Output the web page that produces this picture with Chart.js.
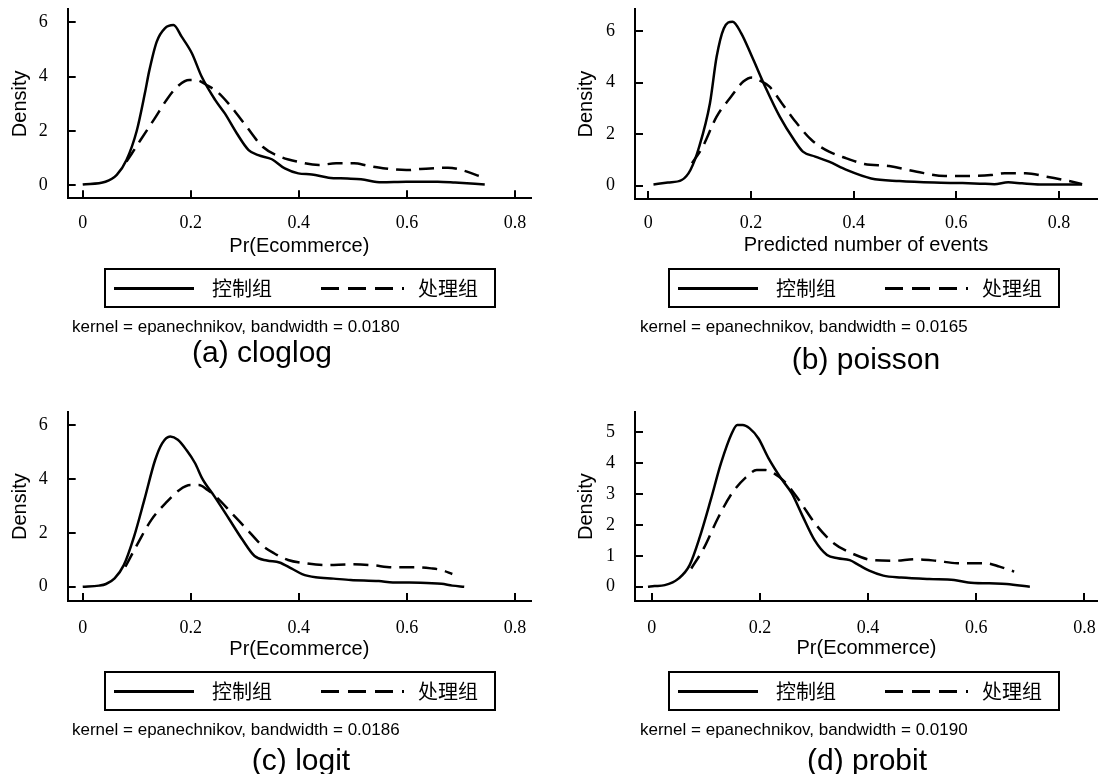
<!DOCTYPE html>
<html>
<head>
<meta charset="utf-8">
<script src="https://cdn.jsdelivr.net/npm/chart.js@4/dist/chart.umd.min.js"></script>
<style>
  html, body { margin:0; padding:0; background:#fff; }
  #wrap { position:relative; width:1098px; height:774px; overflow:hidden; background:#fff; }
  .panel { position:absolute; width:549px; height:387px; }
  .legend { position:absolute; box-sizing:border-box; border:2px solid #000; height:40px; width:392px; background:#fff; }
  .legend .sample { position:absolute; top:17px; height:2.5px; }
  .legend .solid { background:#000; }
  .legend .dash { background:repeating-linear-gradient(to right,#000 0,#000 18px,transparent 18px,transparent 27px); }
  .legend .lab { position:absolute; top:5px; font-family:"Noto Sans CJK SC", sans-serif; font-size:20px; line-height:26px; color:#000; }
  .note { position:absolute; font-family:"Liberation Sans", Arial, sans-serif; font-size:17px; line-height:20px; color:#000; white-space:nowrap; }
  .caption { position:absolute; font-family:"Liberation Sans", Arial, sans-serif; font-size:30px; line-height:34px; color:#000; white-space:nowrap; transform:translateX(-50%); }
</style>
</head>
<body>
<div id="wrap"></div>
<script>
// ---------------- data ----------------
const seriesLabels = ['控制组', '处理组'];

// (a) cloglog
const cloglogCtrlX  = [0, 0.042, 0.063, 0.081, 0.10, 0.115, 0.123, 0.137, 0.152, 0.168, 0.183, 0.202, 0.22, 0.245, 0.263, 0.285, 0.307, 0.325, 0.35, 0.374, 0.399, 0.424, 0.455, 0.49, 0.515, 0.553, 0.599, 0.657, 0.689, 0.744];
const cloglogCtrlY  = [0.02, 0.12, 0.37, 0.92, 2.0, 3.38, 4.2, 5.29, 5.78, 5.9, 5.47, 4.86, 4.0, 3.14, 2.64, 1.91, 1.29, 1.1, 0.95, 0.61, 0.43, 0.39, 0.27, 0.24, 0.21, 0.10, 0.12, 0.12, 0.09, 0.02];
const cloglogTreatX = [0.081, 0.107, 0.133, 0.159, 0.178, 0.197, 0.21, 0.23, 0.249, 0.275, 0.301, 0.333, 0.366, 0.398, 0.437, 0.469, 0.502, 0.528, 0.56, 0.599, 0.625, 0.676, 0.702, 0.744];
const cloglogTreatY = [0.86, 1.66, 2.45, 3.25, 3.68, 3.87, 3.87, 3.68, 3.44, 2.88, 2.21, 1.41, 1.04, 0.86, 0.74, 0.80, 0.80, 0.71, 0.61, 0.55, 0.59, 0.64, 0.55, 0.25];

// (b) poisson
const poissonCtrlX  = [0.010, 0.038, 0.065, 0.082, 0.099, 0.12, 0.133, 0.147, 0.164, 0.181, 0.202, 0.229, 0.256, 0.284, 0.301, 0.325, 0.352, 0.386, 0.434, 0.489, 0.557, 0.612, 0.646, 0.674, 0.701, 0.728, 0.763, 0.845];
const poissonCtrlY  = [0.05, 0.12, 0.22, 0.61, 1.51, 3.2, 5.0, 6.1, 6.36, 5.91, 5.0, 3.78, 2.68, 1.77, 1.32, 1.13, 0.93, 0.61, 0.28, 0.18, 0.12, 0.10, 0.08, 0.06, 0.13, 0.09, 0.05, 0.05];
const poissonTreatX = [0.085, 0.106, 0.133, 0.161, 0.185, 0.202, 0.215, 0.236, 0.26, 0.284, 0.318, 0.352, 0.386, 0.421, 0.469, 0.523, 0.578, 0.626, 0.667, 0.694, 0.735, 0.776, 0.824, 0.845];
const poissonTreatY = [0.87, 1.51, 2.68, 3.45, 4.04, 4.2, 4.1, 3.84, 3.2, 2.55, 1.77, 1.32, 1.06, 0.84, 0.76, 0.54, 0.38, 0.38, 0.41, 0.48, 0.48, 0.35, 0.16, 0.06];

// (c) logit
const logitCtrlX  = [0, 0.03, 0.043, 0.059, 0.076, 0.095, 0.114, 0.134, 0.147, 0.162, 0.176, 0.192, 0.208, 0.221, 0.244, 0.27, 0.296, 0.318, 0.341, 0.364, 0.386, 0.406, 0.431, 0.464, 0.496, 0.548, 0.574, 0.625, 0.664, 0.684, 0.706];
const logitCtrlY  = [0, 0.04, 0.1, 0.31, 0.8, 1.86, 3.22, 4.7, 5.32, 5.57, 5.45, 5.07, 4.58, 4.02, 3.34, 2.54, 1.73, 1.14, 0.97, 0.9, 0.68, 0.47, 0.35, 0.3, 0.25, 0.21, 0.16, 0.15, 0.11, 0.04, 0.0];
const logitTreatX = [0.079, 0.102, 0.127, 0.153, 0.179, 0.199, 0.215, 0.231, 0.25, 0.276, 0.302, 0.331, 0.354, 0.38, 0.412, 0.451, 0.496, 0.535, 0.574, 0.619, 0.645, 0.664, 0.684];
const logitTreatY = [0.74, 1.61, 2.48, 3.09, 3.59, 3.77, 3.77, 3.59, 3.28, 2.72, 2.17, 1.55, 1.24, 0.99, 0.87, 0.80, 0.83, 0.80, 0.72, 0.72, 0.68, 0.62, 0.47];

// (d) probit
const probitCtrlX  = [-0.007, 0.005, 0.024, 0.05, 0.07, 0.089, 0.109, 0.128, 0.148, 0.158, 0.168, 0.181, 0.197, 0.216, 0.239, 0.259, 0.278, 0.301, 0.324, 0.344, 0.366, 0.383, 0.402, 0.428, 0.461, 0.513, 0.559, 0.585, 0.624, 0.656, 0.699];
const probitCtrlY  = [0, 0.02, 0.05, 0.27, 0.70, 1.62, 2.81, 4.0, 4.97, 5.24, 5.24, 5.13, 4.81, 4.16, 3.51, 3.02, 2.32, 1.51, 1.03, 0.92, 0.86, 0.70, 0.52, 0.36, 0.30, 0.25, 0.22, 0.14, 0.11, 0.09, 0.0];
const probitTreatX = [0.073, 0.096, 0.122, 0.148, 0.174, 0.194, 0.21, 0.226, 0.246, 0.272, 0.304, 0.337, 0.37, 0.409, 0.448, 0.487, 0.526, 0.565, 0.617, 0.643, 0.67];
const probitTreatY = [0.59, 1.24, 2.21, 3.02, 3.54, 3.78, 3.78, 3.67, 3.40, 2.81, 2.0, 1.40, 1.08, 0.86, 0.84, 0.89, 0.84, 0.76, 0.76, 0.65, 0.49];

// tick values / labels
const xTickValues = [0, 0.2, 0.4, 0.6, 0.8];
const xTickLabels = ['0', '0.2', '0.4', '0.6', '0.8'];
const yTicksSix   = [0, 2, 4, 6];
const yTicksFive  = [0, 1, 2, 3, 4, 5];

const xTitles  = ['Pr(Ecommerce)', 'Predicted number of events', 'Pr(Ecommerce)', 'Pr(Ecommerce)'];
const notes    = ['kernel = epanechnikov, bandwidth = 0.0180', 'kernel = epanechnikov, bandwidth = 0.0165',
                  'kernel = epanechnikov, bandwidth = 0.0186', 'kernel = epanechnikov, bandwidth = 0.0190'];
const captions = ['(a) cloglog', '(b) poisson', '(c) logit', '(d) probit'];

// ---------------- layout (positions/styles only) ----------------
const panels = [
  { left:0,   top:0,   yAxisW:67.7, padTop:9.3,  padRight:18, xH:60.4, padBottom:128.3, yTitlePad:8,  xTickPad:14.3,
    xMin:-0.0278, xMax:0.8296, yMin:-0.49,  yMax:6.48, yTicks:yTicksSix,
    ctrl:[cloglogCtrlX, cloglogCtrlY], treat:[cloglogTreatX, cloglogTreatY],
    legend:{x:104, y:268}, note:{x:72, y:317}, cap:{x:262, y:335} },
  { left:549, top:0,   yAxisW:86,   padTop:9.3,  padRight:1,  xH:58,   padBottom:130,   yTitlePad:25, xTickPad:13,
    xMin:-0.026, xMax:0.874, yMin:-0.516, yMax:6.84, yTicks:yTicksSix,
    ctrl:[poissonCtrlX, poissonCtrlY], treat:[poissonTreatX, poissonTreatY],
    legend:{x:668, y:268}, note:{x:640, y:317}, cap:{x:866, y:342} },
  { left:0,   top:387, yAxisW:67.7, padTop:25.3, padRight:18, xH:60,   padBottom:113,   yTitlePad:8,  xTickPad:16,
    xMin:-0.0278, xMax:0.8296, yMin:-0.53, yMax:6.47, yTicks:yTicksSix,
    ctrl:[logitCtrlX, logitCtrlY], treat:[logitTreatX, logitTreatY],
    legend:{x:104, y:671}, note:{x:72, y:720}, cap:{x:301, y:743} },
  { left:549, top:387, yAxisW:86,   padTop:25.3, padRight:0,  xH:59.7, padBottom:113.3, yTitlePad:25, xTickPad:16.5,
    xMin:-0.031, xMax:0.825, yMin:-0.463, yMax:5.65, yTicks:yTicksFive,
    ctrl:[probitCtrlX, probitCtrlY], treat:[probitTreatX, probitTreatY],
    legend:{x:668, y:671}, note:{x:640, y:720}, cap:{x:867, y:743} }
];

const inwardTicks = {
  id: 'inwardTicks',
  afterDatasetsDraw(chart) {
    const {ctx, chartArea, scales} = chart;
    ctx.save();
    ctx.strokeStyle = '#000';
    ctx.lineWidth = 2;
    scales.x.ticks.forEach(t => {
      const px = Math.round(scales.x.getPixelForValue(t.value));
      ctx.beginPath(); ctx.moveTo(px, chartArea.bottom); ctx.lineTo(px, chartArea.bottom - 8); ctx.stroke();
    });
    scales.y.ticks.forEach(t => {
      const py = Math.round(scales.y.getPixelForValue(t.value));
      ctx.beginPath(); ctx.moveTo(chartArea.left, py); ctx.lineTo(chartArea.left + 8, py); ctx.stroke();
    });
    ctx.restore();
  }
};

const wrap = document.getElementById('wrap');
const toPts = (xs, ys) => xs.map((x, i) => ({x, y: ys[i]}));

panels.forEach((p, i) => {
  const div = document.createElement('div');
  div.className = 'panel';
  div.style.left = p.left + 'px';
  div.style.top = p.top + 'px';
  const cv = document.createElement('canvas');
  cv.width = 549; cv.height = 387;
  div.appendChild(cv);
  wrap.appendChild(div);

  new Chart(cv, {
    type: 'line',
    data: {
      datasets: [
        { label: seriesLabels[0], data: toPts(p.ctrl[0], p.ctrl[1]), borderColor:'#000', borderWidth:2.5,
          pointRadius:0, fill:false, cubicInterpolationMode:'monotone' },
        { label: seriesLabels[1], data: toPts(p.treat[0], p.treat[1]), borderColor:'#000', borderWidth:2.5,
          borderDash:[15, 8], pointRadius:0, fill:false, cubicInterpolationMode:'monotone' }
      ]
    },
    options: {
      responsive:false, animation:false, devicePixelRatio:1,
      layout: { padding: { left:0, top:p.padTop, right:p.padRight, bottom:p.padBottom } },
      plugins: { legend:{display:false}, tooltip:{enabled:false}, title:{display:false} },
      scales: {
        x: {
          type:'linear', min:p.xMin, max:p.xMax,
          grid:{display:false, drawTicks:false},
          border:{display:true, color:'#000', width:2},
          afterBuildTicks: s => { s.ticks = xTickValues.map(v => ({value:v})); },
          ticks:{ padding:p.xTickPad, color:'#000', autoSkip:false, maxRotation:0,
                  font:{family:'"Liberation Serif", "Times New Roman", serif', size:18},
                  callback: v => xTickLabels[xTickValues.indexOf(v)] },
          title:{ display:true, text:xTitles[i], color:'#000', padding:{top:0, bottom:0},
                  font:{family:'"Liberation Sans", Arial, sans-serif', size:20} },
          afterFit: s => { s.height = p.xH; s.paddingLeft = 0; s.paddingRight = 0; }
        },
        y: {
          type:'linear', min:p.yMin, max:p.yMax,
          grid:{display:false, drawTicks:false},
          border:{display:true, color:'#000', width:2},
          afterBuildTicks: s => { s.ticks = p.yTicks.map(v => ({value:v})); },
          ticks:{ padding:20, color:'#000', autoSkip:false,
                  font:{family:'"Liberation Serif", "Times New Roman", serif', size:18},
                  callback: v => String(v) },
          title:{ display:true, text:'Density', color:'#000', padding:{top:p.yTitlePad, bottom:0},
                  font:{family:'"Liberation Sans", Arial, sans-serif', size:20} },
          afterFit: s => { s.width = p.yAxisW; s.paddingTop = 0; s.paddingBottom = 0; }
        }
      }
    },
    plugins:[inwardTicks]
  });

  // legend box (HTML, from series labels)
  const lg = document.createElement('div');
  lg.className = 'legend';
  lg.style.left = p.legend.x + 'px';
  lg.style.top = p.legend.y + 'px';
  lg.innerHTML =
    '<span class="sample solid" style="left:8px;width:80px"></span>' +
    '<span class="lab" style="left:106px">' + seriesLabels[0] + '</span>' +
    '<span class="sample dash" style="left:215px;width:83px"></span>' +
    '<span class="lab" style="left:312px">' + seriesLabels[1] + '</span>';
  wrap.appendChild(lg);

  const nt = document.createElement('div');
  nt.className = 'note';
  nt.style.left = p.note.x + 'px';
  nt.style.top = p.note.y + 'px';
  nt.textContent = notes[i];
  wrap.appendChild(nt);

  const cp = document.createElement('div');
  cp.className = 'caption';
  cp.style.left = p.cap.x + 'px';
  cp.style.top = p.cap.y + 'px';
  cp.textContent = captions[i];
  wrap.appendChild(cp);
});
</script>
</body>
</html>
